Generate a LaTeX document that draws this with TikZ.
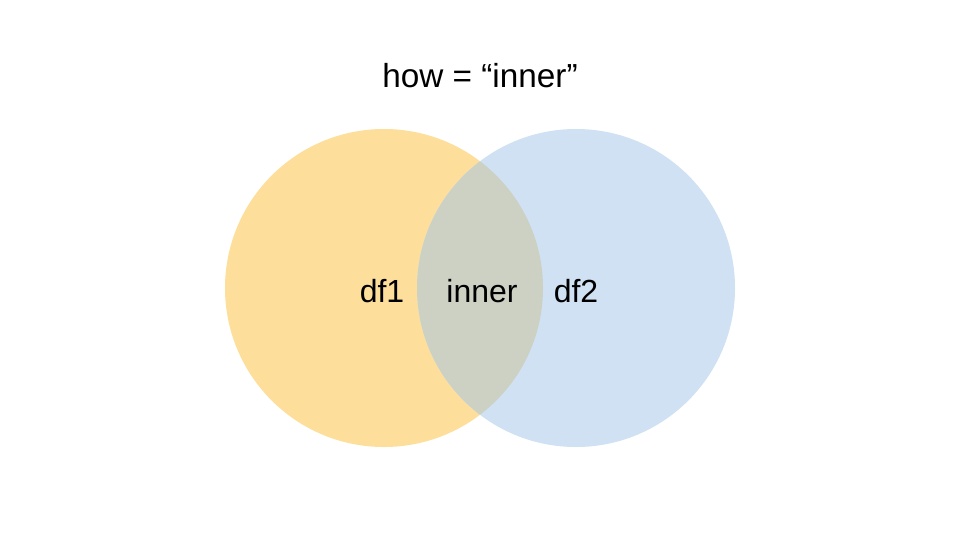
\documentclass[tikz,border=0pt]{standalone}
\usepackage{fontspec}
\setmainfont{Liberation Sans}
\usepackage{xcolor}
\usepackage{tikz}
\definecolor{leftorange}{HTML}{FDDF9B}
\definecolor{rightblue}{HTML}{CFE1F2}
\definecolor{overlapgray}{HTML}{CDD1C4}

\begin{document}
\begin{tikzpicture}[x=.75pt,y=-.75pt,
    setlabel/.style={font=\fontsize{24}{28}\selectfont,inner sep=0pt}]
  \useasboundingbox (0,0) rectangle (960,540);

  \fill[leftorange] (384,288) circle[radius=159];
  \fill[rightblue] (576,288) circle[radius=159];
  \begin{scope}
    \clip (384,288) circle[radius=159];
    \fill[overlapgray] (576,288) circle[radius=159];
  \end{scope}

  \node[setlabel,font=\fontsize{25}{30}\selectfont] (title) at (480,76)
    {how = “inner”};
  \node[setlabel] (dfone) at (382,291) {df1};
  \node[setlabel] (inner) at (482,291) {inner};
  \node[setlabel] (dftwo) at (576,291) {df2};
\end{tikzpicture}
\end{document}
